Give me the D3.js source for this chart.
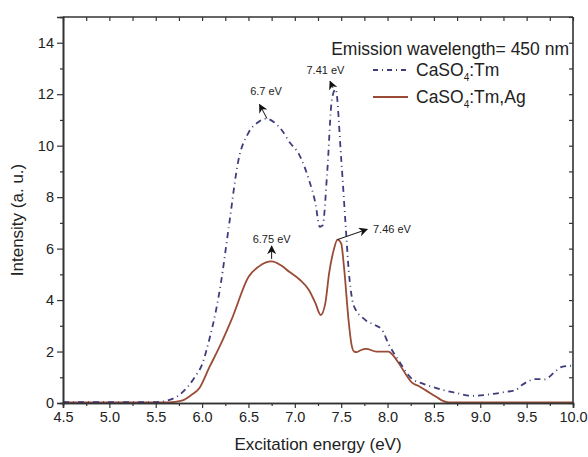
<!DOCTYPE html>
<html><head><meta charset="utf-8">
<script src="https://cdn.jsdelivr.net/npm/d3@7"></script>
<style>body{margin:0;background:#fff}svg{display:block}text{font-family:"Liberation Sans",Arial,sans-serif;fill:#222}</style>
</head><body>
<svg id="c" width="588" height="457"></svg>
<script>
// Data
const tmX = [4.5,4.8,5.1,5.4,5.55,5.65,5.75,5.85,5.92,6.0,6.08,6.15,6.2,6.29,6.39,6.5,6.6,6.69,6.78,6.86,6.95,7.04,7.15,7.22,7.27,7.3,7.35,7.4,7.44,7.5,7.55,7.58,7.62,7.66,7.72,7.77,7.88,7.94,8.01,8.12,8.26,8.38,8.48,8.6,8.73,8.91,9.09,9.27,9.38,9.45,9.52,9.6,9.7,9.74,9.8,9.88,9.99];
const tmY = [0.03,0.03,0.03,0.03,0.05,0.12,0.3,0.65,1.0,1.5,2.5,3.6,4.6,6.9,9.4,10.5,10.9,11.05,10.9,10.6,10.1,9.7,8.7,7.8,6.85,6.9,9.0,11.8,12.2,9.5,6.8,5.2,4.0,3.6,3.35,3.2,3.0,2.85,2.3,1.65,0.95,0.75,0.63,0.5,0.4,0.28,0.33,0.43,0.5,0.7,0.85,0.93,0.92,1.0,1.2,1.4,1.45];
const agX = [4.5,4.8,5.1,5.4,5.6,5.7,5.79,5.88,5.97,6.08,6.19,6.33,6.5,6.61,6.75,6.85,6.94,7.05,7.15,7.22,7.28,7.33,7.37,7.42,7.46,7.5,7.53,7.58,7.61,7.64,7.67,7.71,7.77,7.88,8.01,8.06,8.12,8.2,8.26,8.34,8.41,8.52,8.63,8.7,9.0,9.5,10.0];
const agY = [0.02,0.02,0.02,0.02,0.02,0.04,0.1,0.3,0.57,1.4,2.2,3.35,4.9,5.3,5.5,5.35,5.1,4.8,4.4,3.9,3.42,3.9,5.05,5.95,6.35,6.2,5.3,3.2,2.3,2.0,1.98,2.05,2.1,2.0,2.0,1.85,1.55,1.1,0.8,0.65,0.5,0.25,0.04,0.02,0.02,0.02,0.02];
const xTicks = [4.5,5.0,5.5,6.0,6.5,7.0,7.5,8.0,8.5,9.0,9.5,10.0];
const yTicks = [0,2,4,6,8,10,12,14];
const seriesNames = ["CaSO4:Tm","CaSO4:Tm,Ag"];
const legendTitle = "Emission wavelength= 450 nm";
const peakLabels = [
  {t:"6.7 eV", x:6.7, y:11.05, dx:-0.08, dy:0.55},
  {t:"7.41 eV", x:7.41, y:12.25, dx:-0.03, dy:0.25},
  {t:"6.75 eV", x:6.75, y:5.6, dx:0, dy:0.5},
  {t:"7.46 eV", x:7.46, y:6.35, dx:0.32, dy:0.4}
];

const svg = d3.select("#c");
const m = {l:63, r:573, t:17, b:403};
const x = d3.scaleLinear().domain([4.5,10]).range([m.l,m.r]);
const y = d3.scaleLinear().domain([0,15]).range([m.b,m.t]);
const axisCol = "#333";

const defs = svg.append("defs");
defs.append("marker").attr("id","ah").attr("viewBox","0 0 10 10").attr("refX",9).attr("refY",5)
  .attr("markerWidth",9).attr("markerHeight",9).attr("orient","auto").attr("markerUnits","userSpaceOnUse")
  .append("path").attr("d","M0,0 L10,5 L0,10 L3,5 z").attr("fill","#111");

// curves
const line = d3.line().curve(d3.curveMonotoneX);
svg.append("path").datum(agX.map((v,i)=>[x(v),y(agY[i])])).attr("d",line)
  .attr("fill","none").attr("stroke","#9a4b36").attr("stroke-width",1.8);
svg.append("path").datum(tmX.map((v,i)=>[x(v),y(tmY[i])])).attr("d",line)
  .attr("fill","none").attr("stroke","#3d3d7c").attr("stroke-width",1.8).attr("stroke-dasharray","6,4,1,4");

// axes
const gB = svg.append("g").attr("transform",`translate(0,${m.b})`)
  .call(d3.axisBottom(x).tickValues(xTicks).tickFormat(d3.format(".1f")).tickSize(5).tickPadding(4));
const gBm = svg.append("g").attr("transform",`translate(0,${m.b})`)
  .call(d3.axisBottom(x).tickValues(d3.range(4.75,10,0.5)).tickFormat("").tickSize(3));
const gL = svg.append("g").attr("transform",`translate(${m.l},0)`)
  .call(d3.axisLeft(y).tickValues(yTicks).tickFormat(d3.format("d")).tickSize(6).tickPadding(3));
const gLm = svg.append("g").attr("transform",`translate(${m.l},0)`)
  .call(d3.axisLeft(y).tickValues(d3.range(1,15,2)).tickFormat("").tickSize(3));
const gT = svg.append("g").attr("transform",`translate(0,${m.t})`)
  .call(d3.axisBottom(x).tickValues(d3.range(4.5,10.01,0.25)).tickFormat("").tickSize(4));
const gR = svg.append("g").attr("transform",`translate(${m.r},0)`)
  .call(d3.axisLeft(y).tickValues(d3.range(0,15.01,1)).tickFormat("").tickSize(4));
[gB,gBm,gL,gLm,gT,gR].forEach(g=>{
  g.select(".domain").attr("stroke",axisCol).attr("stroke-width",1.6);
  g.selectAll(".tick line").attr("stroke",axisCol).attr("stroke-width",1.2);
  g.selectAll(".tick text").attr("font-size",14.5).attr("fill","#222").style("font-family",'"Liberation Sans",Arial,sans-serif');
});
gT.select(".domain").attr("d",`M${m.l},0H${m.r}`);
gR.select(".domain").attr("d",`M0,${m.t}V${m.b}`);

// axis titles
svg.append("text").attr("x",318).attr("y",450).attr("text-anchor","middle").attr("font-size",17).text("Excitation energy (eV)");
svg.append("text").attr("transform",`translate(23,${(m.t+m.b)/2+10}) rotate(-90)`).attr("text-anchor","middle").attr("font-size",17).text("Intensity (a. u.)");

// peak annotations
peakLabels.forEach(p=>{
  svg.append("line").attr("x1",x(p.x)).attr("y1",y(p.y)).attr("x2",x(p.x+p.dx)).attr("y2",y(p.y+p.dy))
    .attr("stroke","#111").attr("stroke-width",1).attr("marker-end","url(#ah)");
});
svg.append("text").attr("x",x(6.69)).attr("y",y(11.95)).attr("text-anchor","middle").attr("font-size",11).text(peakLabels[0].t);
svg.append("text").attr("x",x(7.33)).attr("y",y(12.8)).attr("text-anchor","middle").attr("font-size",11).text(peakLabels[1].t);
svg.append("text").attr("x",x(6.75)).attr("y",y(6.2)).attr("text-anchor","middle").attr("font-size",11).text(peakLabels[2].t);
svg.append("text").attr("x",x(7.8)+4).attr("y",y(6.75)+4).attr("text-anchor","start").attr("font-size",11).text(peakLabels[3].t);

// legend
svg.append("text").attr("x",569).attr("y",55).attr("text-anchor","end").attr("font-size",17.5).text(legendTitle);
const leg = [{n:seriesNames[0],c:"#3d3d7c",d:"5,4,1,4",y:70},{n:seriesNames[1],c:"#9a4b36",d:null,y:97}];
leg.forEach(l=>{
  svg.append("line").attr("x1",373).attr("x2",408).attr("y1",l.y).attr("y2",l.y)
    .attr("stroke",l.c).attr("stroke-width",1.8).attr("stroke-dasharray",l.d);
  const t = svg.append("text").attr("x",416).attr("y",l.y+6).attr("font-size",17.5);
  const parts = l.n.split("4");
  t.append("tspan").text(parts[0]);
  t.append("tspan").attr("font-size",10).attr("dy",5).text("4");
  t.append("tspan").attr("dy",-5).text(parts[1]);
});
</script>
</body></html>
